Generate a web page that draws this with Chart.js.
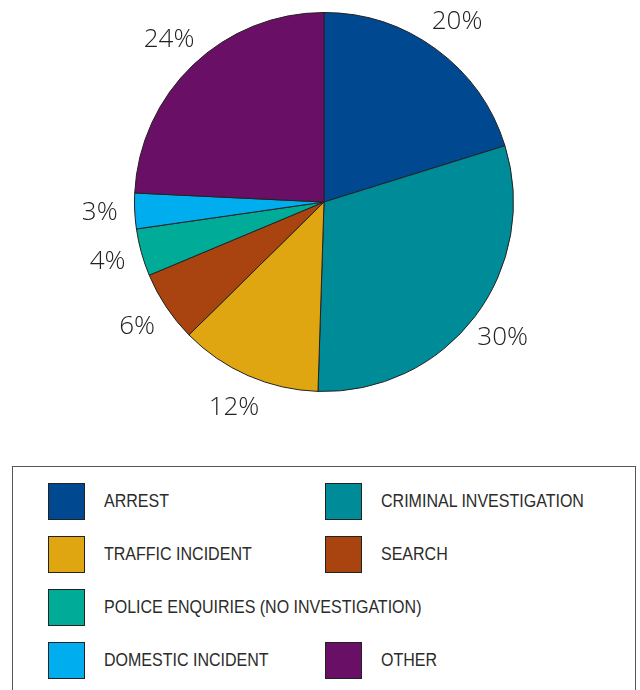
<!DOCTYPE html>
<html lang="en">
<head>
    <meta charset="UTF-8">
    <title>Police contact by reason</title>
    <script src="https://cdn.jsdelivr.net/npm/chart.js"></script>
    <style>
        body { margin: 0; width: 640px; height: 690px; overflow: hidden; background: #fff; position: relative; }
        #chartWrap { position: absolute; left: 0; top: 0; width: 640px; height: 440px; }
        #legend { position: absolute; left: 12px; top: 466px; width: 624px; height: 260px; border: 1px solid #555; box-sizing: border-box; }
        .item { position: absolute; height: 38px; display: flex; align-items: center; font-family: "Liberation Sans", sans-serif; font-size: 18px; color: #2b2b2b; white-space: nowrap; }
        .item span { display: inline-block; transform: scaleX(0.89); transform-origin: left center; }
        .swatch { width: 37px; height: 37px; border: 1px solid #222; box-sizing: border-box; margin-right: 19px; }
    </style>
</head>
<body>
    <div id="chartWrap"><canvas id="pieChart"></canvas></div>
    <div id="legend"></div>
    <script>
        const categories = ['ARREST', 'CRIMINAL INVESTIGATION', 'TRAFFIC INCIDENT', 'SEARCH',
            'POLICE ENQUIRIES (NO INVESTIGATION)', 'DOMESTIC INCIDENT', 'OTHER'];
        const shares = [20, 30, 12, 6, 4, 3, 24];
        const colors = ['#00488f', '#008b99', '#dfa612', '#a94411', '#00ab97', '#00aeef', '#6a0f66'];
        // legend rows, by category index
        const legendRows = [[0, 1], [2, 3], [4], [5, 6]];

        // percentage labels just outside each slice
        const outsideLabels = {
            id: 'outsideLabels',
            afterDatasetsDraw(chart) {
                const ctx = chart.ctx;
                const meta = chart.getDatasetMeta(0);
                ctx.save();
                ctx.font = '300 26px "Open Sans", "DejaVu Sans", sans-serif';
                ctx.fillStyle = '#222';
                ctx.textAlign = 'center';
                ctx.textBaseline = 'middle';
                meta.data.forEach((arc, i) => {
                    const p = arc.getProps(['x', 'y', 'startAngle', 'endAngle', 'outerRadius']);
                    const mid = (p.startAngle + p.endAngle) / 2;
                    const r = p.outerRadius + 35;
                    ctx.fillText(shares[i] + '%', p.x + Math.cos(mid) * r, p.y + Math.sin(mid) * r);
                });
                ctx.restore();
            }
        };

        new Chart(document.getElementById('pieChart'), {
            type: 'pie',
            data: {
                labels: categories,
                datasets: [{
                    data: shares,
                    backgroundColor: colors,
                    borderColor: '#222',
                    borderWidth: 1
                }]
            },
            options: {
                responsive: true,
                maintainAspectRatio: false,
                animation: false,
                layout: { padding: { top: 12, bottom: 48, left: 8 } },
                plugins: {
                    legend: { display: false },
                    tooltip: { enabled: false }
                }
            },
            plugins: [outsideLabels]
        });

        const legend = document.getElementById('legend');
        legendRows.forEach((row, r) => {
            row.forEach((idx, c) => {
                const item = document.createElement('div');
                item.className = 'item';
                item.style.left = (35 + c * 277) + 'px';
                item.style.top = (15 + r * 53) + 'px';
                const sw = document.createElement('div');
                sw.className = 'swatch';
                sw.style.background = colors[idx];
                const txt = document.createElement('span');
                txt.textContent = categories[idx];
                item.appendChild(sw);
                item.appendChild(txt);
                legend.appendChild(item);
            });
        });
    </script>
</body>
</html>
